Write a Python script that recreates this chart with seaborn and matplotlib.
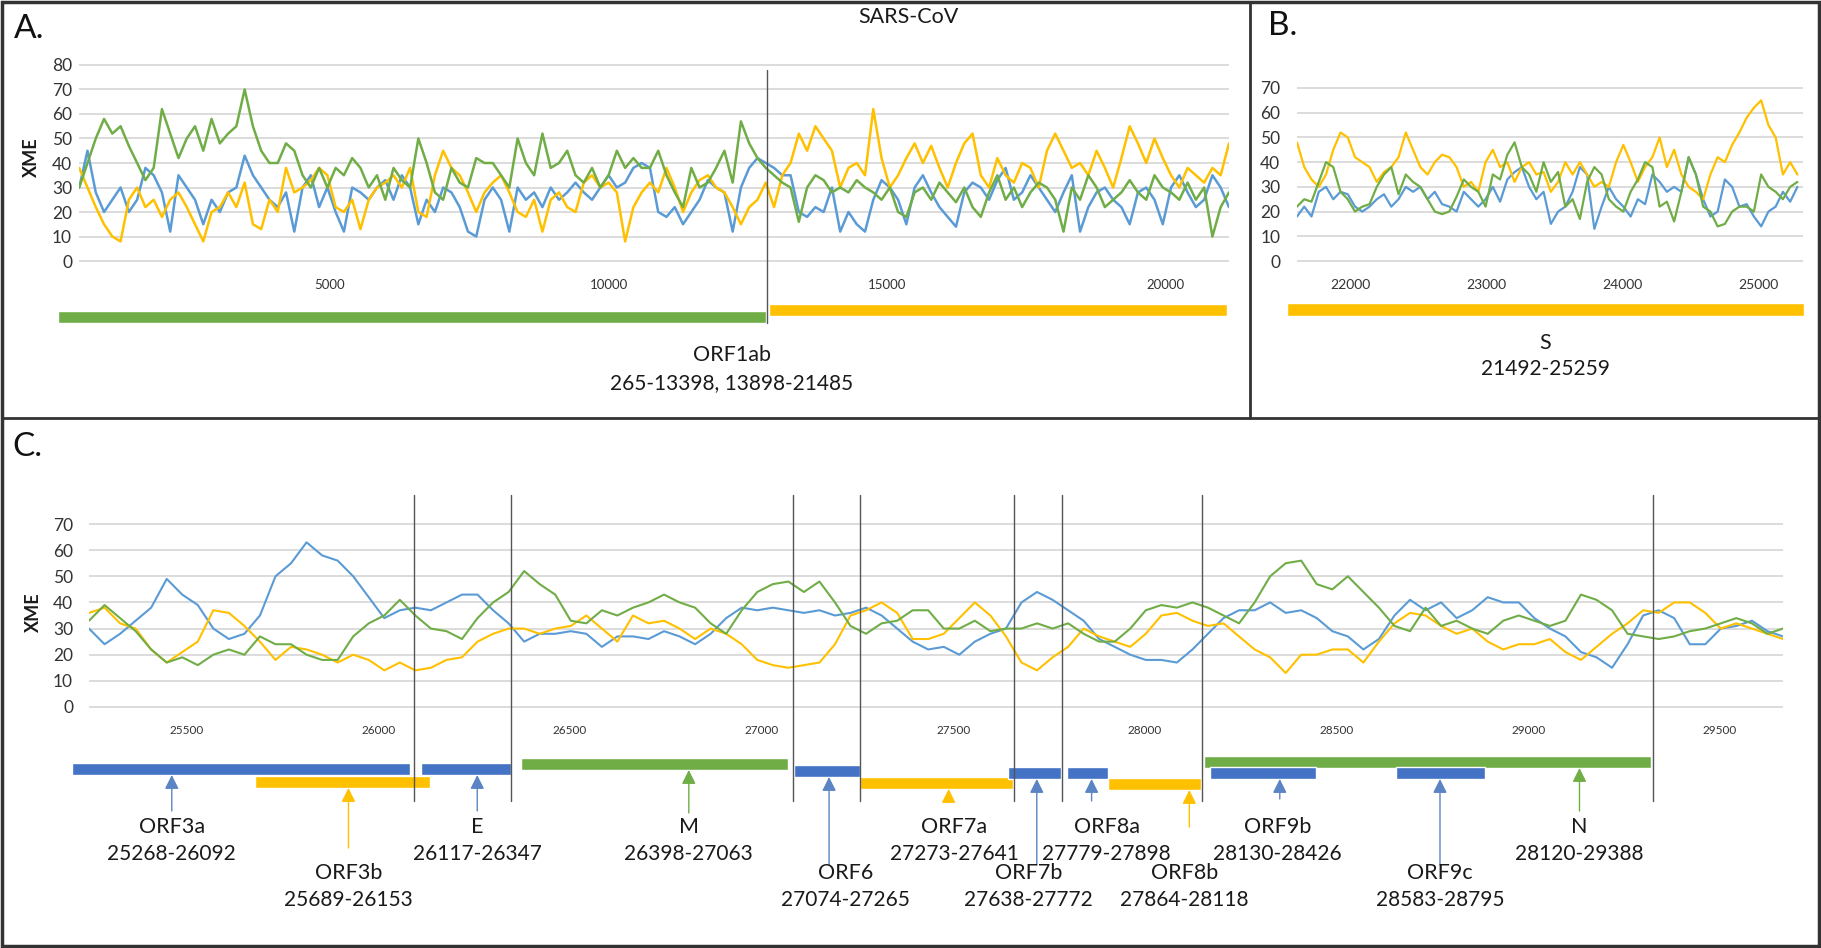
import numpy as np
import seaborn as sns
import matplotlib
matplotlib.use("Agg")
import matplotlib.pyplot as plt
from matplotlib.lines import Line2D
from matplotlib.patches import Rectangle

sns.set_style("white")
plt.rcParams["font.family"] = ["Lato", "DejaVu Sans"]

BLUE = "#5b9bd5"
YELLOW = "#ffc000"
GREEN = "#70ad47"
BAR_BLUE = "#4472c4"
ARROW_BLUE = "#5b84c4"

# ---------------- data ----------------
# panel A: ORF1ab window, 140 evenly spaced readings
a_green = [30, 40, 50, 58, 52, 55, 47, 40, 33, 38, 62, 52, 42, 50, 55, 45, 58, 48, 52, 55,
           70, 55, 45, 40, 40, 48, 45, 35, 30, 38, 30, 38, 35, 42, 38, 30, 35, 25, 38, 33,
           30, 50, 40, 28, 25, 38, 32, 30, 42, 40, 40, 35, 30, 50, 40, 35, 52, 38, 40, 45,
           35, 32, 38, 30, 35, 45, 38, 42, 38,
           38, 45, 35, 28, 22, 38, 30, 32, 38, 45, 32, 57, 48, 42, 38, 35, 32, 30, 16, 30,
           35, 33, 28, 30, 28, 33, 30, 28, 25, 30, 20, 18, 28, 30, 25, 32, 28, 24, 30, 22,
           18, 28, 35, 25, 30, 22, 28, 32, 30, 25, 12, 30, 25, 35, 30, 22, 25, 28, 33, 28,
           25, 35, 30, 28, 25, 32, 25, 30, 10, 22, 28]
a_blue = [30, 45, 28, 20, 25, 30, 20, 25, 38, 35, 28, 12, 35, 30, 25, 15, 25, 20, 28, 30,
          43, 35, 30, 25, 22, 28, 12, 30, 35, 22, 30, 20, 12, 30, 28, 25, 30, 33, 25, 35,
          30, 15, 25, 20, 30, 28, 22, 12, 10, 25, 30, 25, 12, 30, 25, 28, 22, 30, 25, 28,
          32, 28, 25, 30, 35, 30, 32, 38, 40,
          38, 20, 18, 22, 15, 20, 25, 33, 30, 28, 12, 30, 38, 42, 40, 38, 35, 35, 20, 18,
          22, 20, 30, 12, 20, 15, 12, 25, 33, 30, 25, 15, 30, 35, 28, 22, 18, 14, 28, 32,
          30, 25, 33, 38, 25, 28, 35, 30, 25, 20, 28, 35, 12, 22, 28, 30, 25, 22, 15, 28,
          30, 25, 15, 30, 35, 28, 22, 25, 35, 30, 22]
a_yellow = [38, 30, 22, 15, 10, 8, 25, 30, 22, 25, 18, 25, 28, 22, 15, 8, 20, 22, 28, 22,
            32, 15, 13, 25, 20, 38, 28, 30, 33, 38, 35, 22, 20, 25, 13, 25, 30, 32, 35, 30,
            38, 20, 18, 35, 45, 38, 35, 28, 20, 28, 32, 35, 28, 20, 18, 25, 12, 25, 28, 22,
            20, 32, 35, 30, 32, 28, 8, 22, 28,
            32, 28, 38, 30, 20, 28, 33, 35, 30, 28, 22, 15, 22, 25, 32, 22, 35, 40, 52, 45,
            55, 50, 45, 30, 38, 40, 35, 62, 42, 30, 35, 42, 48, 40, 47, 38, 30, 40, 48, 52,
            35, 30, 42, 35, 32, 40, 38, 30, 45, 52, 45, 38, 40, 35, 45, 38, 30, 42, 55, 48,
            40, 50, 42, 35, 30, 38, 35, 32, 38, 35, 48]

# panel B: S gene window, 70 readings
b_green = [22, 25, 24, 32, 40, 38, 28, 25, 20, 22, 23, 30, 35, 38, 27, 35, 32, 30, 25, 20,
           19, 20, 26, 33, 30, 28, 22, 35, 33, 43, 48, 38, 35, 28, 40, 32, 36, 22, 25, 17,
           32, 38, 35, 25, 22, 20, 28, 33, 40, 38, 22, 24, 16, 28, 42, 35, 22, 20, 14, 15,
           20, 22, 22, 20, 35, 30, 28, 25, 30, 32]
b_blue = [18, 22, 18, 28, 30, 25, 28, 27, 22, 20, 22, 25, 27, 22, 25, 30, 28, 30, 25, 28,
          23, 22, 20, 28, 25, 22, 25, 30, 24, 33, 36, 38, 30, 25, 28, 15, 20, 22, 28, 38,
          35, 13, 22, 30, 25, 22, 18, 25, 23, 35, 32, 28, 30, 28, 42, 35, 25, 18, 20, 33,
          30, 22, 23, 18, 14, 20, 22, 28, 24, 30]
b_yellow = [48, 38, 33, 30, 35, 45, 52, 50, 42, 40, 38, 32, 36, 38, 42, 52, 45, 38, 35, 40,
            43, 42, 38, 30, 32, 28, 40, 45, 38, 40, 32, 38, 40, 35, 36, 28, 32, 40, 35, 40,
            35, 30, 32, 30, 40, 47, 40, 32, 38, 42, 50, 38, 45, 35, 30, 28, 25, 35, 42, 40,
            47, 52, 58, 62, 65, 55, 50, 35, 40, 35]

# panel C: 3' end genes, 110 readings
c_green = [33, 39, 34, 29, 22, 17, 19, 16, 20, 22, 20, 27, 24, 24, 20, 18, 18, 27, 32, 35,
           41, 35, 30, 29, 26, 34, 40, 44, 52, 47, 43, 33, 32, 37,
           35, 38, 40, 43, 40, 38, 32, 28, 37, 44, 47, 48, 44, 48, 40, 31, 28, 32, 33, 37,
           37, 30, 30, 33, 29, 30, 30, 32, 30, 32, 28, 25, 25, 30, 37, 39, 38, 40, 38, 35,
           32, 40, 50, 55, 56, 47, 45, 50, 44, 38, 31, 29, 38, 31, 33, 30, 28, 33, 35, 33,
           31, 33, 43, 41, 37, 28, 27, 26, 27, 29, 30, 32, 34, 32, 28, 30]
c_blue = [30, 24, 28, 33, 38, 49, 43, 39, 30, 26, 28, 35, 50, 55, 63, 58, 56, 50, 42, 34,
          37, 38, 37, 40, 43, 43, 37, 32, 25, 28, 28, 29, 28, 23,
          27, 27, 26, 29, 27, 24, 28, 34, 38, 37, 38, 37, 36, 37, 35, 36, 38, 35, 30, 25,
          22, 23, 20, 25, 28, 30, 40, 44, 41, 37, 33, 26, 23, 20, 18, 18, 17, 22, 28, 34,
          37, 37, 40, 36, 37, 34, 29, 27, 22, 26, 35, 41, 37, 40, 34, 37, 42, 40, 40, 34,
          30, 27, 21, 19, 15, 24, 35, 37, 34, 24, 24, 30, 31, 33, 29, 27]
c_yellow = [36, 38, 32, 30, 22, 17, 21, 25, 37, 36, 31, 25, 18, 23, 22, 20, 17, 20, 18, 14,
            17, 14, 15, 18, 19, 25, 28, 30, 30, 28, 30, 31, 35, 30,
            25, 35, 32, 33, 30, 26, 30, 28, 24, 18, 16, 15, 16, 17, 24, 35, 37, 40, 36, 26,
            26, 28, 34, 40, 35, 27, 17, 14, 19, 23, 30, 27, 25, 23, 28, 35, 36, 33, 31, 32,
            27, 22, 19, 13, 20, 20, 22, 22, 17, 25, 32, 36, 35, 31, 28, 30, 25, 22, 24, 24,
            26, 21, 18, 23, 28, 32, 37, 36, 40, 40, 36, 30, 32, 30, 28, 26]

a_ticks = [5000, 10000, 15000, 20000]
b_ticks = [22000, 23000, 24000, 25000]
c_ticks = [25500, 26000, 26500, 27000, 27500, 28000, 28500, 29000, 29500]

# gene tracks in panel C
gene_names = ["ORF3a", "ORF3b", "E", "M", "ORF6", "ORF7a", "ORF7b", "ORF8a", "ORF8b",
              "ORF9b", "ORF9c", "N"]
gene_ranges = ["25268-26092", "25689-26153", "26117-26347", "26398-27063", "27074-27265",
               "27273-27641", "27638-27772", "27779-27898", "27864-28118", "28130-28426",
               "28583-28795", "28120-29388"]
gene_kind = ["b", "y", "b", "g", "b", "y", "b", "b", "y", "b", "b", "g"]
bar_start = [25201, 25677, 26110, 26373, 27085, 27258, 27643, 27797, 27903, 28170, 28655, 28155]
bar_end = [26082, 26134, 26346, 27070, 27258, 27655, 27782, 27903, 28146, 28446, 28888, 29321]
bar_y = [769, 782, 769, 764, 771, 783, 773, 773, 784, 773, 773, 762]
arrow_x = [25461, 25922, 26258, 26810, 27176, 27488, 27718, 27861, 28116, 28352, 28770, 29134]
arrow_tail = [811, 848, 811, 813, 865, 799, 865, 801, 827, 799, 865, 811]
label_x = [25461, 25922, 26258, 26810, 27218, 27503, 27697, 27900, 28103, 28346, 28770, 29134]
label_row = [0, 1, 0, 0, 1, 0, 1, 0, 1, 0, 1, 0]
c_borders = [26092, 26346, 27082, 27258, 27658, 27785, 28149, 29325]

# ---------------- figure ----------------
W, H = 1821, 948
fig = plt.figure(figsize=(W / 100, H / 100), dpi=100)


def rect(x0, x1, y_top, y_bot):
    return [x0 / W, 1 - y_bot / H, (x1 - x0) / W, (y_bot - y_top) / H]


def line_panel(r, xlim, ymax, xs, series, ticks, tick_size, lw, ypad):
    ax = fig.add_axes(r)
    for vals, col in series:
        sns.lineplot(x=xs, y=vals, color=col, linewidth=lw, ax=ax, legend=False)
    ax.set_xlim(*xlim)
    ax.set_ylim(-0.4, ymax + 0.4)
    ax.set_yticks(range(0, ymax + 1, 10))
    ax.set_xticks(ticks)
    ax.set_xticklabels([str(t) for t in ticks])
    ax.grid(axis="y", color="#d9d9d9", lw=1.3)
    ax.grid(axis="x", visible=False)
    for s in ax.spines.values():
        s.set_visible(False)
    ax.tick_params(axis="y", length=0, pad=ypad, labelsize=12.5, labelcolor="#333333")
    ax.tick_params(axis="x", length=8, width=1, color="#9a9a9a", pad=4,
                   labelsize=tick_size, labelcolor="#333333")
    ax.set_xlabel("")
    ax.set_ylabel("")
    ax.set_axisbelow(True)
    return ax


def overlay(r, xlim, y_top, y_bot):
    ax = fig.add_axes(r)
    ax.set_xlim(*xlim)
    ax.set_ylim(y_bot, y_top)
    ax.axis("off")
    return ax


# panel A
a_lim = (496, 21131)
xa = np.linspace(500, 21130, len(a_green))
line_panel(rect(79, 1229, 64, 262), a_lim, 80, xa,
           [(a_blue, BLUE), (a_yellow, YELLOW), (a_green, GREEN)], a_ticks, 9.5, 1.8, 5)
oa = overlay(rect(79, 1229, 0, 418), a_lim, 0, 418)
oa.plot([12848, 12848], [70, 323], color="#555555", lw=1)
oa.barh(317, 12832 - 119, left=119, height=12, color=GREEN, clip_on=False)
oa.barh(310, 21087 - 12877, left=12877, height=12, color=YELLOW, clip_on=False)
oa.text(12213, 355, "ORF1ab", ha="center", va="center", fontsize=15.5, color="#1a1a1a")
oa.text(12213, 383, "265-13398, 13898-21485", ha="center", va="center", fontsize=15,
        color="#1a1a1a")

# panel B
b_lim = (21610, 25331)
xb = np.linspace(21610, 25290, len(b_green))
line_panel(rect(1297, 1803, 87, 262), b_lim, 70, xb,
           [(b_blue, BLUE), (b_yellow, YELLOW), (b_green, GREEN)], b_ticks, 10, 1.6, 12)
ob = overlay(rect(1297, 1803, 0, 418), b_lim, 0, 418)
ob.barh(309, 25338 - 21537, left=21537, height=13, color=YELLOW, clip_on=False)
ob.text(23434, 343, "S", ha="center", va="center", fontsize=15.5, color="#1a1a1a")
ob.text(23434, 369, "21492-25259", ha="center", va="center", fontsize=15, color="#1a1a1a")

# panel C
c_lim = (25245, 29665)
xc = np.linspace(25245, 29665, len(c_green))
line_panel(rect(89, 1783, 523, 708), c_lim, 70, xc,
           [(c_blue, BLUE), (c_yellow, YELLOW), (c_green, GREEN)], c_ticks, 8.5, 1.5, 11.5)
oc = overlay(rect(89, 1783, 418, 948), c_lim, 418, 948)
for b in c_borders:
    oc.plot([b, b], [495, 801], color="#555555", lw=1)
bar_col = {"b": BAR_BLUE, "y": YELLOW, "g": GREEN}
arr_col = {"b": ARROW_BLUE, "y": YELLOW, "g": GREEN}
order = [3, 11, 0, 1, 2, 4, 5, 6, 7, 8, 9, 10]
for i in order:
    oc.barh(bar_y[i], bar_end[i] - bar_start[i], left=bar_start[i], height=12,
            color=bar_col[gene_kind[i]], clip_on=False)
for i, name in enumerate(gene_names):
    oc.annotate("", xy=(arrow_x[i], bar_y[i] + 6), xytext=(arrow_x[i], arrow_tail[i]),
                arrowprops=dict(arrowstyle="-|>,head_width=0.3,head_length=0.6",
                                color=arr_col[gene_kind[i]], lw=1, shrinkA=0, shrinkB=0,
                                mutation_scale=14))
    y1 = 827 if label_row[i] == 0 else 873
    oc.text(label_x[i], y1, name, ha="center", va="center", fontsize=15.5, color="#1a1a1a")
    oc.text(label_x[i], y1 + 27, gene_ranges[i], ha="center", va="center", fontsize=15,
            color="#1a1a1a")


# panel letters and titles
def ftext(x, y, s, **kw):
    fig.text(x / W, 1 - y / H, s, **kw)


ftext(14, 29, "A.", fontsize=24, va="center", ha="left", color="#111111")
ftext(1268, 26, "B.", fontsize=24, va="center", ha="left", color="#111111")
ftext(12, 447, "C.", fontsize=24, va="center", ha="left", color="#111111")
ftext(908, 17, "SARS-CoV", fontsize=15.5, va="center", ha="center", color="#1a1a1a")
ftext(31, 157, "XME", fontsize=13, fontweight="bold", rotation=90, va="center",
      ha="center", color="#1a1a1a")
ftext(33, 612, "XME", fontsize=13, fontweight="bold", rotation=90, va="center",
      ha="center", color="#1a1a1a")

# frame and dividers
fig.add_artist(Rectangle((2 / W, 2 / H), (W - 4) / W, (H - 4) / H, fill=False,
                         edgecolor="#333333", lw=2.5, transform=fig.transFigure))
fig.add_artist(Line2D([2 / W, (W - 2) / W], [1 - 418 / H, 1 - 418 / H], color="#333333",
                      lw=2, transform=fig.transFigure))
fig.add_artist(Line2D([1250 / W, 1250 / W], [1 - 2 / H, 1 - 418 / H], color="#333333",
                      lw=2, transform=fig.transFigure))

fig.savefig("out.png", dpi=100)
